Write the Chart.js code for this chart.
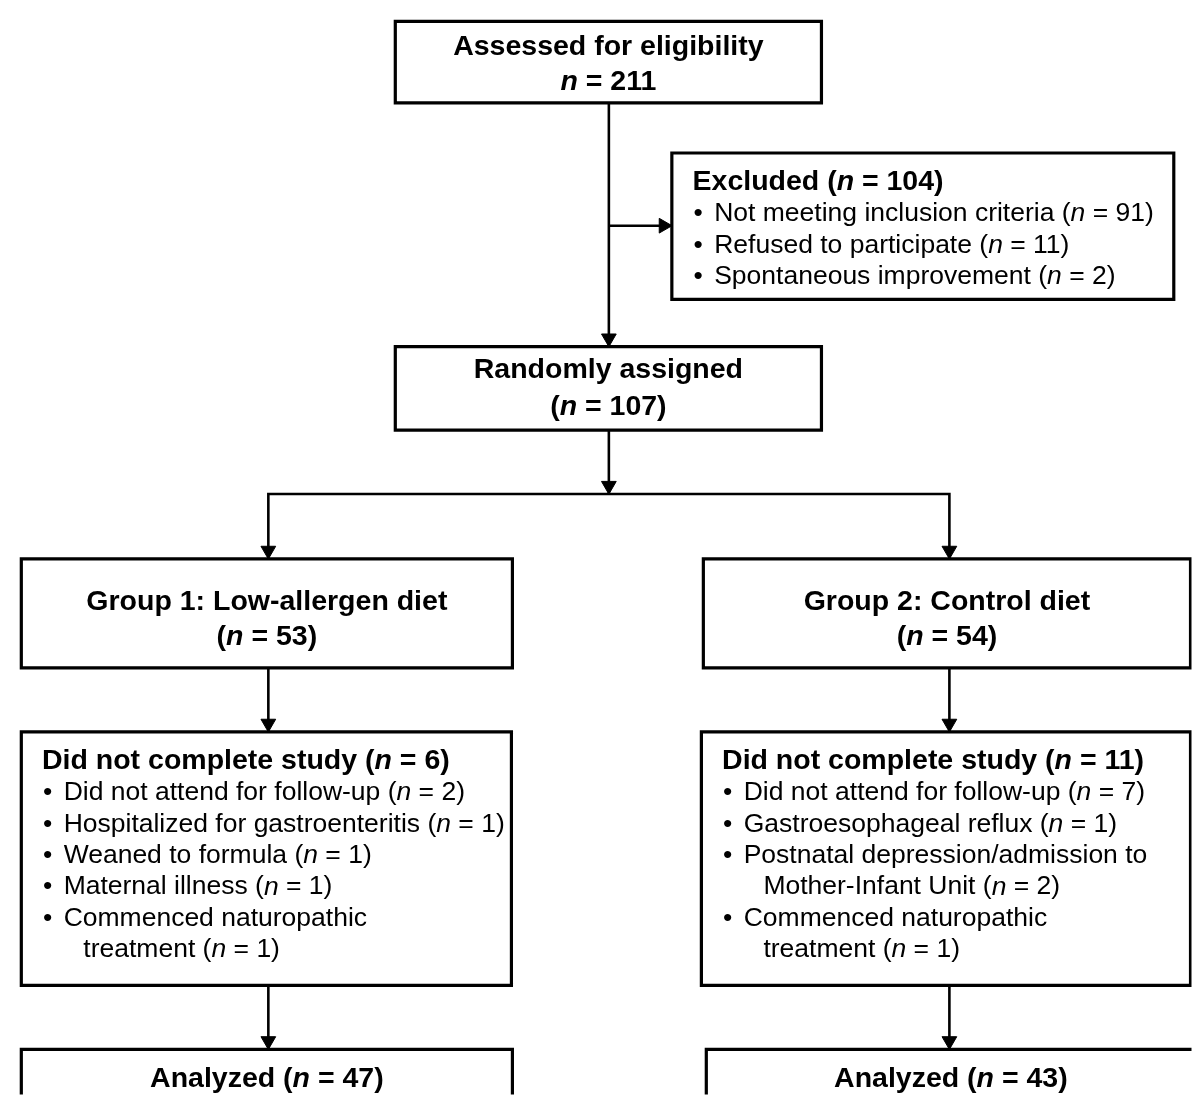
<!DOCTYPE html>
<html>
<head>
<meta charset="utf-8">
<script src="https://cdn.jsdelivr.net/npm/chart.js@4"></script>
<style>
  html, body { margin: 0; padding: 0; background: #fff; }
  #wrap { width: 1201px; height: 1104px; }
</style>
</head>
<body>
<div id="wrap"><canvas id="flow" width="1201" height="1104"></canvas></div>
<script>
// counts
const assessedN = 211;
const excludedN = 104;
const excludedReasons = ['Not meeting inclusion criteria', 'Refused to participate', 'Spontaneous improvement'];
const excludedCounts = [91, 11, 2];
const randomizedN = 107;
const groupLabels = ['Group 1: Low-allergen diet', 'Group 2: Control diet'];
const groupN = [53, 54];
const dropoutN = [6, 11];
const dropoutReasons1 = ['Did not attend for follow-up', 'Hospitalized for gastroenteritis', 'Weaned to formula', 'Maternal illness', 'Commenced naturopathic\ntreatment'];
const dropoutCounts1 = [2, 1, 1, 1, 1];
const dropoutReasons2 = ['Did not attend for follow-up', 'Gastroesophageal reflux', 'Postnatal depression/admission to\nMother-Infant Unit', 'Commenced naturopathic\ntreatment'];
const dropoutCounts2 = [7, 1, 2, 1];
const analyzedN = [47, 43];

// layout of the diagram, in axis units (x0, x1, y0, y1)
const BOX = {
    assessed: [392, 825, 12, 95],
    excluded: [673, 1183, 146, 295],
    random: [392, 825, 343, 428],
    group1: [12, 511, 559, 670],
    group2: [705, 1200, 559, 670],
    drop1: [12, 510, 735, 993],
    drop2: [703, 1200, 735, 993],
    anal1: [12, 511, 1058, 1140],
    anal2: [708, 1205, 1058, 1140]
};
const LINKS = [
    [[609, 95], [609, 343]],
    [[609, 220], [673, 220]],
    [[609, 428], [609, 493]],
    [[263, 559], [263, 493], [955, 493], [955, 559]],
    [[263, 670], [263, 735]],
    [[955, 670], [955, 735]],
    [[263, 993], [263, 1058]],
    [[955, 993], [955, 1058]]
];
// arrow tips: x, y, direction
const TIPS = [
    [609, 343, 'down'], [673, 220, 'right'], [609, 493, 'down'],
    [263, 559, 'down'], [955, 559, 'down'],
    [263, 735, 'down'], [955, 735, 'down'],
    [263, 1058, 'down'], [955, 1058, 'down']
];
const HEAD = 8.5;
const LINE_STEP = 32;

const FONT = "'Liberation Sans', Arial, Helvetica, sans-serif";
const STY = {
    b: 'bold 28.5px ' + FONT,
    bi: 'italic bold 28.5px ' + FONT,
    r: '26.5px ' + FONT,
    i: 'italic 26.5px ' + FONT
};

function nText(pre, n, post, base) {
    return [[pre, base], ['n', base === 'b' ? 'bi' : 'i'], [' = ' + n + post, base]];
}

// text lines: {x, y, segs, align}
const TEXTS = [];
function centerLine(box, y, segs) {
    const b = BOX[box];
    TEXTS.push({ x: (b[0] + b[1]) / 2, y, segs, align: 'center' });
}
function listBox(box, title, reasons, counts) {
    const b = BOX[box];
    const left = b[0];
    let y = b[2] + 30;
    TEXTS.push({ x: left + 21, y, segs: title, align: 'left' });
    reasons.forEach((r, i) => {
        const parts = r.split('\n');
        parts.forEach((p, j) => {
            y += LINE_STEP;
            const last = j === parts.length - 1;
            const segs = last ? nText(p + ' (', counts[i], ')', 'r') : [[p, 'r']];
            if (j === 0) TEXTS.push({ x: left + 22, y, segs: [['\u2022', 'r']], align: 'left' });
            TEXTS.push({ x: left + (j === 0 ? 43 : 63), y, segs, align: 'left' });
        });
    });
}

centerLine('assessed', 38, [['Assessed for eligibility', 'b']]);
centerLine('assessed', 74, [['n', 'bi'], [' = ' + assessedN, 'b']]);
listBox('excluded', nText('Excluded (', excludedN, ')', 'b'), excludedReasons, excludedCounts);
centerLine('random', 367, [['Randomly assigned', 'b']]);
centerLine('random', 405, nText('(', randomizedN, ')', 'b'));
centerLine('group1', 603, [[groupLabels[0], 'b']]);
centerLine('group1', 639, nText('(', groupN[0], ')', 'b'));
centerLine('group2', 603, [[groupLabels[1], 'b']]);
centerLine('group2', 639, nText('(', groupN[1], ')', 'b'));
listBox('drop1', nText('Did not complete study (', dropoutN[0], ')', 'b'), dropoutReasons1, dropoutCounts1);
listBox('drop2', nText('Did not complete study (', dropoutN[1], ')', 'b'), dropoutReasons2, dropoutCounts2);
centerLine('anal1', 1088, nText('Analyzed (', analyzedN[0], ')', 'b'));
centerLine('anal2', 1088, nText('Analyzed (', analyzedN[1], ')', 'b'));

function drawRich(ctx, segs, x, y, align) {
    let w = 0;
    segs.forEach(s => { ctx.font = STY[s[1]]; w += ctx.measureText(s[0]).width; });
    let cx = align === 'center' ? x - w / 2 : x;
    ctx.textAlign = 'left';
    ctx.textBaseline = 'middle';
    segs.forEach(s => {
        ctx.font = STY[s[1]];
        ctx.fillText(s[0], cx, y);
        cx += ctx.measureText(s[0]).width;
    });
}

const textPlugin = {
    id: 'flowText',
    afterDatasetsDraw(chart) {
        const ctx = chart.ctx;
        const xs = chart.scales.x, ys = chart.scales.y;
        ctx.save();
        ctx.fillStyle = '#000';
        TEXTS.forEach(t => drawRich(ctx, t.segs, xs.getPixelForValue(t.x), ys.getPixelForValue(t.y), t.align));
        ctx.restore();
    }
};

const datasets = [];
Object.values(BOX).forEach(b => {
    const [x0, x1, y0, y1] = b;
    datasets.push({
        data: [{ x: x0, y: y0 }, { x: x1, y: y0 }, { x: x1, y: y1 }, { x: x0, y: y1 }, { x: x0, y: y0 }, { x: x1, y: y0 }],
        showLine: true, borderColor: '#000', borderWidth: 3.2, pointRadius: 0,
        borderJoinStyle: 'miter', tension: 0, fill: false
    });
});
LINKS.forEach(l => {
    datasets.push({
        data: l.map(p => ({ x: p[0], y: p[1] })),
        showLine: true, borderColor: '#000', borderWidth: 2.6, pointRadius: 0,
        borderJoinStyle: 'miter', tension: 0, fill: false
    });
});
datasets.push({
    data: TIPS.map(t => t[2] === 'right' ? { x: t[0] - HEAD, y: t[1] } : { x: t[0], y: t[1] - HEAD }),
    showLine: false,
    pointStyle: 'triangle',
    pointRotation: TIPS.map(t => t[2] === 'right' ? 90 : 180),
    pointRadius: HEAD,
    pointBackgroundColor: '#000',
    pointBorderColor: '#000',
    pointBorderWidth: 1
});

new Chart(document.getElementById('flow'), {
    type: 'scatter',
    data: { datasets },
    options: {
        responsive: false,
        devicePixelRatio: 1,
        animation: false,
        events: [],
        layout: { padding: 0 },
        plugins: { legend: { display: false }, tooltip: { enabled: false } },
        scales: {
            x: { type: 'linear', min: 0, max: 1201, display: false },
            y: { type: 'linear', min: 0, max: 1104, reverse: true, display: false }
        }
    },
    plugins: [textPlugin]
});
</script>
</body>
</html>
